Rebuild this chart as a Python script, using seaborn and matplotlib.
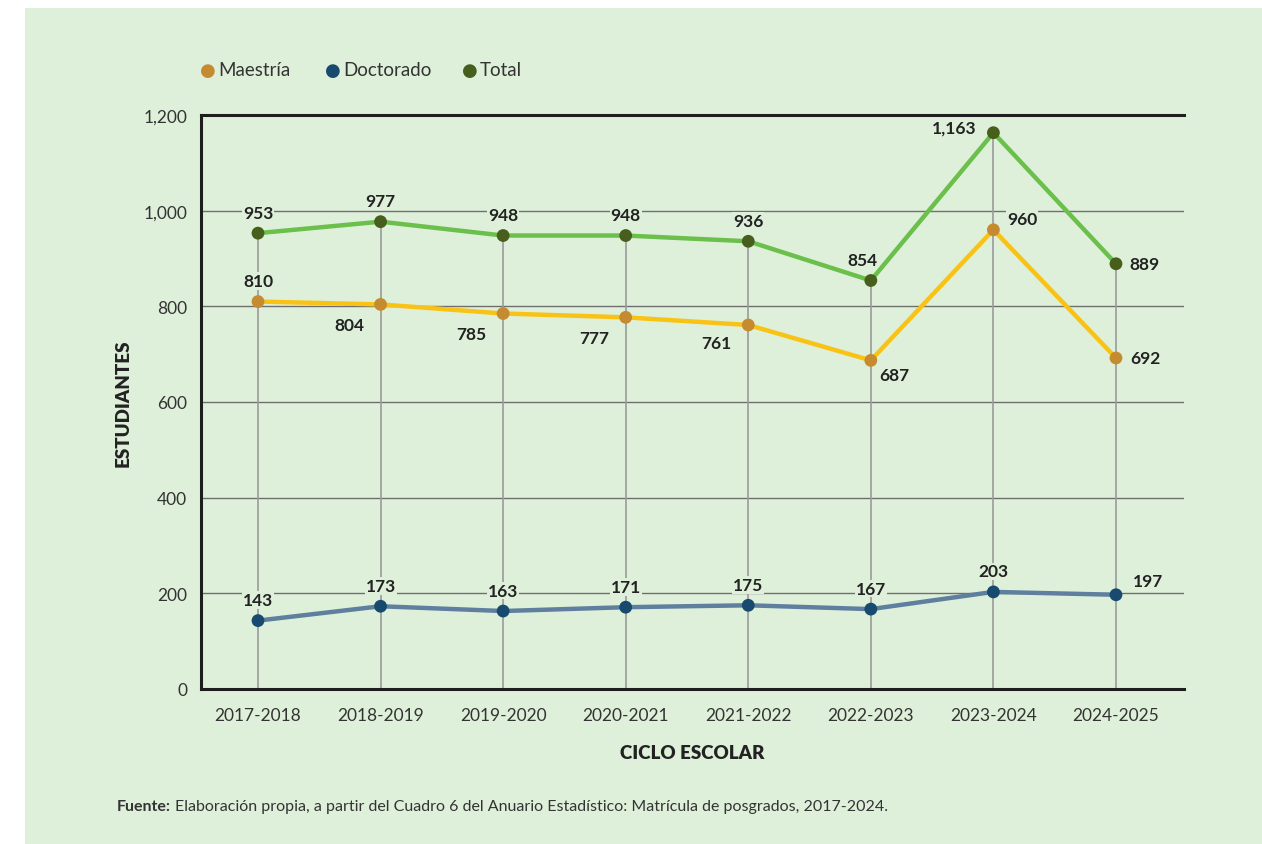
#!/usr/bin/env python
"""Matrícula de posgrados por ciclo escolar, 2017-2025."""

import pandas as pd
import matplotlib.pyplot as plt
from matplotlib.patches import Rectangle
import seaborn as sns

ciclos = ['2017-2018', '2018-2019', '2019-2020', '2020-2021',
          '2021-2022', '2022-2023', '2023-2024', '2024-2025']
maestria = [810, 804, 785, 777, 761, 687, 960, 692]
doctorado = [143, 173, 163, 171, 175, 167, 203, 197]
total = [953, 977, 948, 948, 936, 854, 1163, 889]

BG = '#dff0da'
FONT = ['Lato', 'DejaVu Sans']

# label offsets in points (dx, dy, ha, va)
off_maestria = [(0, 9, 'center', 'bottom'), (-12, -9, 'right', 'top'),
                (-12, -9, 'right', 'top'), (-12, -9, 'right', 'top'),
                (-12, -7, 'right', 'top'), (6, -5, 'left', 'top'),
                (10, 2, 'left', 'bottom'), (10, 0, 'left', 'center')]
off_doctorado = [(0, 9, 'center', 'bottom')] * 7 + [(12, 4, 'left', 'bottom')]
off_total = [(0, 9, 'center', 'bottom')] * 5 + [(-6, 9, 'center', 'bottom'),
             (-12, 4, 'right', 'center'), (10, 0, 'left', 'center')]

series = [
    ('Maestría', maestria, '#f9c316', '#c58b30', off_maestria),
    ('Doctorado', doctorado, '#5f7f9f', '#174a6e', off_doctorado),
    ('Total', total, '#6bbf4b', '#485e1d', off_total),
]

sns.set_style('white')
plt.rcParams['font.family'] = FONT

fig = plt.figure(figsize=(12.62, 8.45), dpi=100)
fig.patches.append(Rectangle((25 / 1262, 0), 1, 1 - 9 / 845, transform=fig.transFigure,
                             facecolor=BG, edgecolor='none', zorder=-5))
ax = fig.add_axes([201 / 1262, 1 - 690 / 845, 983 / 1262, 574 / 845])
ax.set_facecolor(BG)

x = list(range(len(ciclos)))

# horizontal grid + drop lines from the total down to zero
for t in range(200, 1001, 200):
    ax.axhline(t, color='#6f6f6f', linewidth=1, zorder=1)
ax.vlines(x, 0, total, color='#9a9a9a', linewidth=1.2, zorder=1)

for name, vals, lc, mc, offs in series:
    df = pd.DataFrame({'x': x, 'y': vals})
    sns.lineplot(data=df, x='x', y='y', ax=ax, color=lc, linewidth=3.2, zorder=3)
    sns.scatterplot(data=df, x='x', y='y', ax=ax, color=mc, s=85,
                    edgecolor='none', zorder=4)
    for xi, v, (dx, dy, ha, va) in zip(x, vals, offs):
        ax.annotate(f'{v:,}', (xi, v), xytext=(dx, dy), textcoords='offset points',
                    ha=ha, va=va, fontsize=12.5, fontweight='bold', color='#222222',
                    zorder=5, bbox=dict(boxstyle='square,pad=0.05', fc=BG, ec='none'))

ax.set_xlim(-0.465, 7.555)
ax.set_ylim(0, 1200)
ax.set_yticks(range(0, 1201, 200))
ax.set_yticklabels([f'{t:,}' for t in range(0, 1201, 200)])
ax.set_xticks(x)
ax.set_xticklabels(ciclos)
ax.tick_params(axis='both', length=0, labelsize=12.5, colors='#333333')
ax.tick_params(axis='x', pad=13)
ax.tick_params(axis='y', pad=10)

for side in ['left', 'bottom', 'top']:
    ax.spines[side].set_color('#1e1e1e')
    ax.spines[side].set_linewidth(2.2)
ax.spines['right'].set_visible(False)

ax.set_xlabel('CICLO ESCOLAR', fontsize=13.5, fontweight='heavy', color='#222222',
              labelpad=15)
ax.set_ylabel('ESTUDIANTES', fontsize=13.5, fontweight='heavy', color='#222222',
              labelpad=8)

# legend row
leg_x = [208, 333, 470]
for (name, vals, lc, mc, offs), lx in zip(series, leg_x):
    fig.text(lx / 1262, 1 - 71 / 845, '\u25CF', color=mc, fontsize=13,
             ha='center', va='center', family=['DejaVu Sans'])
    fig.text((lx + 10) / 1262, 1 - 71 / 845, name, color='#333333', fontsize=13.5,
             ha='left', va='center')

t1 = fig.text(117 / 1262, 1 - 807 / 845, 'Fuente:', fontsize=11.5, fontweight='bold',
              color='#333333', ha='left', va='center')
fig.canvas.draw()
bb = t1.get_window_extent()
fig.text((bb.x1 + 4) / 1262, 1 - 807 / 845,
         'Elaboración propia, a partir del Cuadro 6 del Anuario Estadístico: '
         'Matrícula de posgrados, 2017-2024.',
         fontsize=11.5, color='#333333', ha='left', va='center')

fig.savefig('out.png', dpi=100, facecolor='white')
